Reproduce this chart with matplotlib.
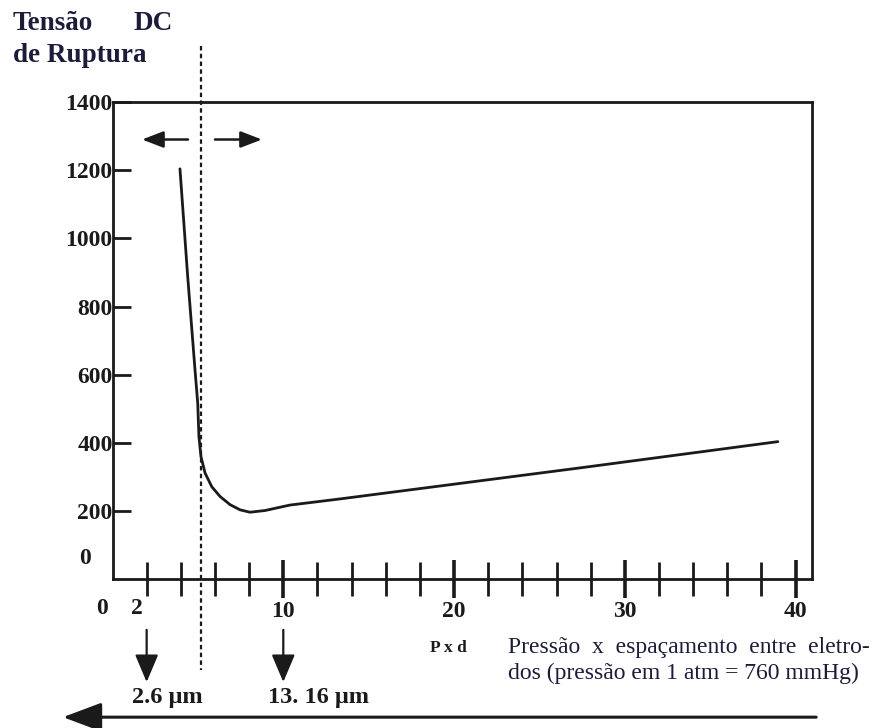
import matplotlib
matplotlib.use("Agg")
import matplotlib.pyplot as plt
from matplotlib.ticker import FixedLocator

# ---- data ----
pxd = [3.95, 4.40, 4.83, 4.99, 5.06, 5.18, 5.42, 5.81, 6.30, 6.89, 7.47, 8.05,
       8.93, 10.39, 13.32, 27.37, 38.96]
tensao = [1204, 890, 615, 517, 419, 360, 312, 272, 243, 219, 204, 197,
          202, 218, 236, 327, 404]

y_ticks = [200, 400, 600, 800, 1000, 1200, 1400]
y_ticklabels = ["200", "400", "600", "800", "1000", "1200", "1400"]
x_major = [10, 20, 30, 40]
x_major_labels = ["10", "20", "30", "40"]
x_minor = [2, 4, 6, 8, 12, 14, 16, 18, 22, 24, 26, 28, 32, 34, 36, 38]
paschen_min_x = 5.16      # dashed vertical line
marker_x = [2, 10]        # down arrows
marker_labels = ["2.6 \u03bcm", "13. 16 \u03bcm"]

W, H = 872, 728
fig = plt.figure(figsize=(W / 100, H / 100), dpi=100)
fig.patch.set_facecolor("white")

def fx(px):
    return px / W

def fy(py):
    return 1 - py / H

ax = fig.add_axes([fx(112.5), fy(579.4), (811.7 - 112.5) / W, (579.4 - 102) / H])
ax.set_xlim(0, 40.94)
ax.set_ylim(0, 1400)

ink = "#1a1a1a"
navy = "#1c1c3a"
serif = ["Liberation Serif", "DejaVu Serif"]

for s in ax.spines.values():
    s.set_linewidth(2)
    s.set_color(ink)

# curve
ax.plot(pxd, tensao, color=ink, lw=2, solid_joinstyle="round",
        solid_capstyle="round", zorder=3)

# y ticks
ax.set_yticks(y_ticks)
ax.set_yticklabels(y_ticklabels, fontfamily=serif, fontweight="bold", fontsize=17)
ax.tick_params(axis="y", direction="in", length=13, width=2, pad=0, colors=ink)

# x ticks
ax.xaxis.set_major_locator(FixedLocator(x_major))
ax.xaxis.set_minor_locator(FixedLocator(x_minor))
ax.set_xticklabels(x_major_labels, fontfamily=serif, fontweight="bold", fontsize=17)
ax.tick_params(axis="x", which="major", direction="inout", length=27, width=2.6, pad=2, colors=ink)
ax.tick_params(axis="x", which="minor", direction="inout", length=25, width=2, colors=ink)

# extra "0" / "2" labels offset to the left as in the reference
fig.text(fx(85), fy(558), "0", ha="center", va="center", fontfamily=serif,
         fontweight="bold", fontsize=17, color=ink)
fig.text(fx(102), fy(609), "0", ha="center", va="center", fontfamily=serif,
         fontweight="bold", fontsize=17, color=ink)
fig.text(fx(137), fy(609), "2", ha="center", va="center", fontfamily=serif,
         fontweight="bold", fontsize=17, color=ink)

# dashed vertical line
ax.plot([paschen_min_x, paschen_min_x], [1564, -266], color=ink, lw=1.6,
        linestyle=(0, (2.0, 1.5)), clip_on=False, zorder=2)

# top horizontal arrows
ax.annotate("", xy=(1.73, 1290), xytext=(4.42, 1290),
            arrowprops=dict(arrowstyle="-|>,head_length=0.65,head_width=0.25",
                            mutation_scale=20, lw=1.8, color=ink, shrinkA=0, shrinkB=0))
ax.annotate("", xy=(8.75, 1290), xytext=(6.0, 1290),
            arrowprops=dict(arrowstyle="-|>,head_length=0.65,head_width=0.25",
                            mutation_scale=20, lw=1.8, color=ink, shrinkA=0, shrinkB=0))

# down arrows and micrometre labels
label_left = [1.15, 9.1]
for mx, lab, lx in zip(marker_x, marker_labels, label_left):
    ax.annotate("", xy=(mx, -301), xytext=(mx, -148), annotation_clip=False,
                arrowprops=dict(arrowstyle="-|>,head_length=0.85,head_width=0.36",
                                mutation_scale=20, lw=1.6, color=ink, shrinkA=0, shrinkB=0))
    ax.text(lx, -345, lab, ha="left", va="center", fontfamily=serif,
            fontweight="bold", fontsize=17.5, color=ink, clip_on=False)

# long bottom arrow
ax.annotate("", xy=(-2.9, -404), xytext=(41.2, -404), annotation_clip=False,
            arrowprops=dict(arrowstyle="-|>,head_length=1.2,head_width=0.45",
                            mutation_scale=20, lw=2.2, color=ink, shrinkA=0, shrinkB=0))

# axis title texts
fig.text(fx(13), fy(23), "Tens\u00e3o", ha="left", va="center", fontfamily=serif,
         fontweight="bold", fontsize=19.5, color=navy)
fig.text(fx(133), fy(23), "DC", ha="left", va="center", fontfamily=serif,
         fontweight="bold", fontsize=19.5, color=navy)
fig.text(fx(13), fy(55), "de Ruptura", ha="left", va="center", fontfamily=serif,
         fontweight="bold", fontsize=19.5, color=navy)

fig.text(fx(430), fy(648), "P x d", ha="left", va="center", fontfamily=serif,
         fontweight="bold", fontsize=12.5, color=ink)
fig.text(fx(508), fy(648), "Press\u00e3o  x  espa\u00e7amento  entre  eletro-", ha="left",
         va="center", fontfamily=serif, fontsize=17, color=navy)
fig.text(fx(508), fy(673), "dos (press\u00e3o em 1 atm = 760 mmHg)", ha="left",
         va="center", fontfamily=serif, fontsize=17, color=navy)

fig.savefig("out.png", dpi=100, facecolor="white")
